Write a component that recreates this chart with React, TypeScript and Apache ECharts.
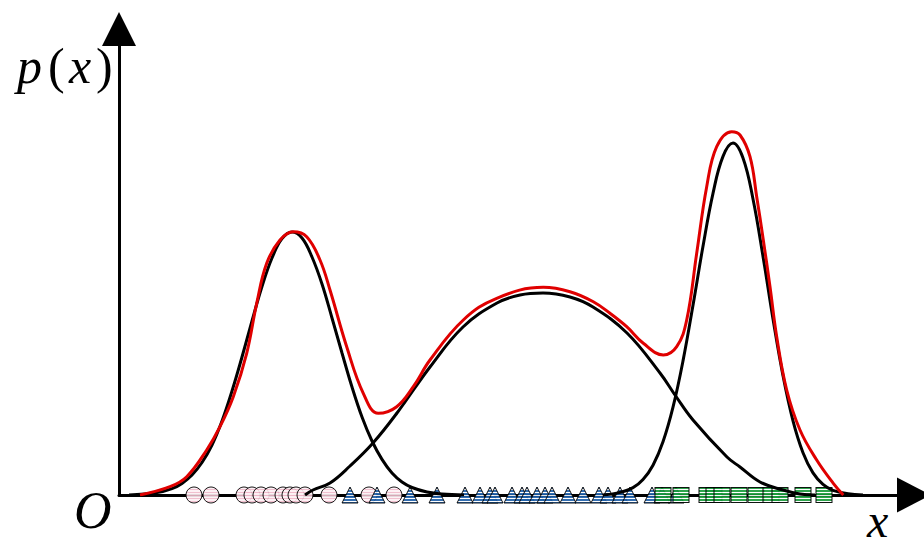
import React, { useEffect, useRef } from "react";
import * as echarts from "echarts";

// Curve readings (x, p(x)) in chart units
const comp1: number[][] = [
  [10, 0], [38, 2.4], [53, 6.4], [63, 11.6], [73, 20], [83, 32.5], [93, 50], [103, 74], [113, 104],
  [123, 138], [133, 174], [143, 208.5], [153, 237], [163, 256.3], [173, 263], [183, 257], [193, 238],
  [203, 211], [213, 177], [223, 142], [233, 108], [243, 78], [253, 54], [263, 35.6], [273, 22],
  [283, 13], [293, 7.5], [308, 3], [323, 1], [345, 0],
];
const comp2: number[][] = [
  [186, 0], [194, 5], [211, 12], [231, 29], [254, 52], [278, 82], [311, 128], [344, 168], [378, 192],
  [401, 200], [424, 202], [451, 198], [474, 188], [508, 162], [541, 122], [556, 100], [574, 75],
  [608, 38], [621, 28], [641, 13], [664, 5], [681, 1], [696, 0],
];
const comp3: number[][] = [
  [484, 0], [499, 2.1], [514, 7.4], [524, 15.5], [534, 29.8], [544, 53.2], [554, 87.8], [564, 134.1],
  [574, 189.8], [584, 248.8], [594, 301.7], [604, 338.6], [614, 352], [624, 337.1], [634, 296],
  [644, 238.6], [654, 176], [664, 119.4], [674, 74.2], [684, 42.3], [694, 22.1], [704, 10.6],
  [714, 4.7], [729, 1.2], [744, 0],
];
const mixture: number[][] = [
  [21, 0], [51, 8.3], [67.7, 18.3], [87.7, 45], [101, 68.3], [114.3, 98.3], [127.7, 141.7],
  [137.7, 191.7], [147.7, 231.7], [161, 255], [174.3, 263.3], [187.7, 258.3], [201, 235], [211, 205],
  [227.7, 148.3], [244.3, 101.7], [259.3, 81.7], [277.7, 88.3], [294.3, 108.3], [311, 135],
  [344.3, 175], [377.7, 196.7], [424.3, 207.7], [451, 203.3], [474.3, 193.3], [491, 181.7],
  [507.7, 168.3], [524.3, 151.7], [544.3, 140], [557.7, 148.3], [567.7, 175], [577.7, 241.7],
  [587.7, 308.3], [597.7, 348.3], [612.7, 363.3], [621, 360], [631, 338.3], [637.7, 298.3],
  [644.3, 255], [651, 208.3], [657.7, 158.3], [667.7, 105], [681, 65], [697.7, 35], [714.3, 11.7],
  [724.3, 0],
];
// Sample positions on the x axis
const circleX: number[] = [75, 92, 125, 133, 142, 152, 164, 171, 177, 186, 210, 250, 275];
const triangleX: number[] = [231, 258, 291, 318, 346, 361, 371, 376, 393, 403, 408, 418, 426, 433,
  449, 464, 480, 489, 501, 511, 533, 543, 557];
const squareX: number[] = [544, 562, 588, 595, 603, 620, 637, 652, 661, 684, 705];

const XMAX = 795;
const YMAX = 466;

function stripes(base: string, line: string, period: number, lineH: number, sx: number, sy: number): any {
  const c = document.createElement("canvas");
  c.width = 4;
  c.height = period;
  const g = c.getContext("2d");
  if (!g) return base;
  g.fillStyle = base;
  g.fillRect(0, 0, 4, period);
  g.fillStyle = line;
  g.fillRect(0, 0, 4, lineH);
  return { image: c, repeat: "repeat", scaleX: 1 / sx, scaleY: 1 / sy };
}

export default function App() {
  const ref = useRef<HTMLDivElement>(null);
  useEffect(() => {
    if (!ref.current) return;
    const chart = echarts.init(ref.current, null, { renderer: "svg" });
    const serif = "Liberation Serif";
    const scatter = (xs: number[], symbol: string, size: number[] | number, color: any, z: number) => ({
      type: "scatter",
      symbol,
      symbolSize: size,
      data: xs.map((x) => [x, 0]),
      z,
      itemStyle: {
        color,
        opacity: 0.9,
        borderColor: "#000",
        borderWidth: 1,
      },
      silent: true,
    });
    const curve = (d: number[][], color: string, z: number) => ({
      type: "line",
      data: d,
      showSymbol: false,
      smooth: 0.4,
      z,
      lineStyle: { color, width: 3 },
      silent: true,
    });
    const txt = (s: string, x: number, y: number, italic: boolean, size: number) => ({
      type: "text",
      x,
      y,
      style: {
        text: s,
        fontFamily: serif,
        fontStyle: italic ? "italic" : "normal",
        fontSize: size,
        fill: "#000",
        align: "left",
        verticalAlign: "middle",
      },
    });
    chart.setOption({
      animation: false,
      backgroundColor: "#fff",
      grid: { left: 119, right: 10, top: 29, bottom: 50 },
      xAxis: {
        type: "value",
        min: 0,
        max: XMAX,
        axisLine: { show: true, onZero: false, symbol: ["none", "triangle"], symbolSize: [35, 34], lineStyle: { color: "#000", width: 3 } },
        axisTick: { show: false },
        axisLabel: { show: false },
        splitLine: { show: false },
      },
      yAxis: {
        type: "value",
        min: 0,
        max: YMAX,
        axisLine: { show: true, onZero: false, symbol: ["none", "triangle"], symbolSize: [34, 34], lineStyle: { color: "#000", width: 3 } },
        axisTick: { show: false },
        axisLabel: { show: false },
        splitLine: { show: false },
      },
      series: [
        scatter(circleX, "circle", 16, stripes("#fdf0f4", "#f0b9ca", 3, 1, 8, 8), 2),
        scatter(triangleX, "triangle", [16, 16], stripes("#1d5ea8", "#ffffff", 3, 1, 8, 8), 3),
        scatter(squareX, "rect", [16, 15], stripes("#179a3a", "#ffffff", 3, 1, 8, 7.5), 4),
        curve(comp1, "#000", 5),
        curve(comp2, "#000", 5),
        curve(comp3, "#000", 5),
        curve(mixture, "#e00000", 6),
      ],
      graphic: [
        txt("p", 17, 66, true, 50),
        txt("(", 48, 66, false, 50),
        txt("x", 69, 66, true, 50),
        txt(")", 96, 66, false, 50),
        txt("O", 74, 510, true, 52),
        txt("x", 867, 520, true, 48),
      ],
    });
    return () => chart.dispose();
  }, []);
  return <div ref={ref} style={{ position: "fixed", left: 0, top: 0, width: 924, height: 545 }} />;
}
